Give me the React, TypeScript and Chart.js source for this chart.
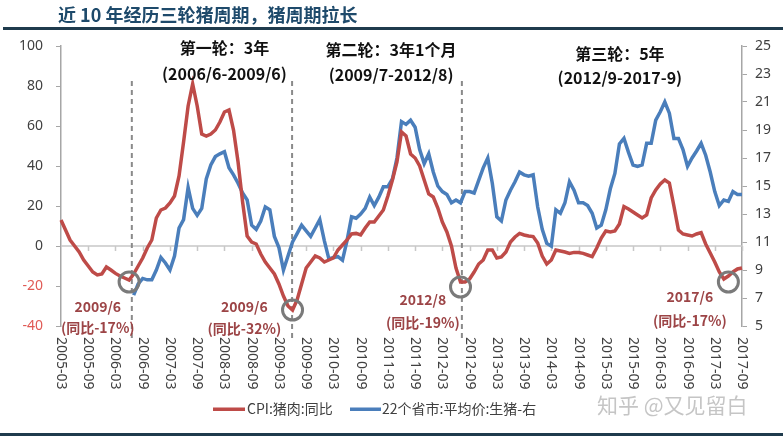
import React, { useEffect, useRef } from 'react';
import { Chart, registerables } from 'chart.js';

Chart.register(...registerables);

// ---------- categories ----------
const START_YEAR = 2005;
const START_MONTH = 3;
const MONTH_COUNT = 151;
const months: string[] = [];
for (let i = 0; i < MONTH_COUNT; i++) {
  const m = START_MONTH - 1 + i;
  months.push(`${START_YEAR + Math.floor(m / 12)}-${String((m % 12) + 1).padStart(2, '0')}`);
}
const LABEL_EVERY = 6;

// ---------- series ----------
// CPI: 猪肉: 同比 (left axis, %)
const cpiPork: number[] = [
  13, 8, 3, 0, -3, -7, -10, -13, -14.5, -14,
  -10.5, -12, -13.7, -15, -16, -17, -14, -10, -6, -1,
  3, 14, 18, 19, 21.5, 25, 35, 52, 70, 81,
  70, 56, 55, 56, 58, 62, 67, 68, 58, 42,
  22, 5, 2, 1, -4, -8, -11, -14, -19, -25,
  -30, -32, -27, -19, -11, -8, -5, -6, -8, -7,
  -6, -2, 0.5, 3, 6, 6.3, 5.5, 9, 12, 12,
  15, 18, 25, 33, 42, 57, 55, 46, 44, 40,
  33, 26, 24.5, 19, 12, 7, 0, -11, -18, -18,
  -16.5, -13, -9, -7, -2, -2, -6, -5.5, -3, 2,
  4.5, 6.3, 5.5, 5, 4.7, 1.5, -5, -9, -7, -2,
  -2.5, -3, -3.7, -3.2, -3.3, -3.7, -4.5, -5.3, -1, 4,
  7.5, 7, 7.5, 11, 19.7, 18.5, 17, 15.5, 14, 15.5,
  24, 28, 31, 33, 31.5, 20, 8, 6, 5.5, 5,
  6, 6.7, 1, -3.5, -8, -13, -16.5, -15, -13, -11.5,
  -11,
];

// 22个省市: 平均价: 生猪 (right axis, 元/公斤)
const hogPrice: (number | null)[] = [
  null, null, null, null, null, null, null, null, null, null,
  null, null, null, null, null, null, 7.2, 8.0, 8.4, 8.3,
  8.3, 9.0, 9.9, 9.5, 9.0, 10.0, 12.0, 12.6, 14.9, 13.4,
  12.9, 13.4, 15.5, 16.5, 17.1, 17.3, 17.45, 16.3, 15.8, 15.2,
  14.5, 14.0, 12.2, 11.9, 12.5, 13.5, 13.3, 11.4, 10.6, 9.0,
  10.0, 11.0, 11.6, 12.2, 11.8, 11.4, 12.0, 12.6, 11.1, 9.8,
  9.9, 9.95, 9.7, 11.1, 12.8, 12.7, 13.0, 13.4, 14.2, 13.6,
  14.2, 14.95, 14.95, 15.5, 17.0, 19.6, 19.4, 19.7, 19.2, 17.6,
  16.6, 17.3, 16.0, 15.0, 14.6, 14.4, 13.8, 14.0, 13.8, 14.6,
  14.6, 14.5, 15.4, 16.3, 17.0, 15.2, 12.8, 12.5, 14.0, 14.7,
  15.3, 16.0, 15.8, 15.7, 15.8, 13.5, 11.9, 10.9, 10.7, 13.3,
  13.05, 13.8, 15.3, 14.7, 13.8, 13.8, 13.6, 13.05, 12.0, 12.2,
  13.3, 14.8, 15.9, 18.0, 18.4, 17.4, 16.5, 16.4, 16.5, 18.05,
  18.05, 19.7, 20.3, 21.0, 20.2, 18.4, 18.4, 17.6, 16.4, 17.0,
  17.5, 18.05, 17.2, 16.0, 14.6, 13.6, 14.0, 13.9, 14.6, 14.4,
  14.4,
];

// ---------- annotations ----------
const troughIdx = [15, 51, 88, 147];
const troughVal = [-18, -32, -20.5, -18];
const troughDates = ['2009/6', '2009/6', '2012/8', '2017/6'];
const troughPct = ['(同比-17%)', '(同比-32%)', '(同比-19%)', '(同比-17%)'];
const troughLabelIdx = [8.1, 40.4, 79.7, 138.5];
const troughDateVal = [-30.5, -30.5, -27, -25.5];
const troughPctVal = [-41, -41.5, -38.5, -37.5];

const cycleTitles = ['第一轮：3年', '第二轮：3年1个月', '第三轮：5年'];
const cycleRanges = ['(2006/6-2009/6)', '(2009/7-2012/8)', '(2012/9-2017-9)'];
const cycleIdx = [36, 72.7, 123.1];
const cycleTitleVal = [99, 98, 96];
const cycleRangeVal = [86.25, 85.75, 84.25];

const dividerIdx = [15.6, 50.9, 88.3];
const dividerTop = 82.5;
const dividerBottom = -47;

const TITLE = '近 10 年经历三轮猪周期，猪周期拉长';
const LEGEND_CPI = 'CPI:猪肉:同比';
const LEGEND_HOG = '22个省市:平均价:生猪-右';
const WATERMARK = '知乎 @又见留白';

const RED = '#be4b48';
const BLUE = '#4a7ebb';
const AXIS_GRAY = '#a6a6a6';
const TEXT_GRAY = '#404040';
const NOTE_RED = '#9c4446';
const SANS = '"Noto Sans", "Noto Sans CJK SC", sans-serif';
const CJK = '"Noto Sans CJK SC", "Noto Sans", sans-serif';

const overlay = {
  id: 'overlay',
  beforeDatasetsDraw(chart: any) {
    const { ctx, chartArea, scales } = chart;
    const xs = scales.x;
    const y = scales.y;
    ctx.save();
    // zero line with tick marks
    const y0 = y.getPixelForValue(0);
    ctx.strokeStyle = '#c8c8c8';
    ctx.lineWidth = 1.5;
    ctx.beginPath();
    ctx.moveTo(chartArea.left, y0);
    ctx.lineTo(chartArea.right, y0);
    for (let i = LABEL_EVERY; i < months.length; i += LABEL_EVERY) {
      const x = Math.round(xs.getPixelForValue(i)) + 0.5;
      ctx.moveTo(x, y0);
      ctx.lineTo(x, y0 + 5);
    }
    ctx.stroke();
    // dashed cycle dividers
    ctx.strokeStyle = '#8a8a8a';
    ctx.lineWidth = 2;
    ctx.setLineDash([5, 4]);
    dividerIdx.forEach((d) => {
      const x = xs.getPixelForValue(d);
      ctx.beginPath();
      ctx.moveTo(x, y.getPixelForValue(dividerTop));
      ctx.lineTo(x, y.getPixelForValue(dividerBottom));
      ctx.stroke();
    });
    ctx.restore();
  },
  afterDraw(chart: any) {
    const { ctx, scales } = chart;
    const xs = scales.x;
    const y = scales.y;
    const W = chart.width;
    ctx.save();
    // title
    ctx.fillStyle = '#1e4a6b';
    ctx.font = `bold 18px ${CJK}`;
    ctx.textAlign = 'left';
    ctx.textBaseline = 'middle';
    ctx.fillText(TITLE, 58, 15);
    ctx.fillStyle = '#1f3b4d';
    ctx.fillRect(3, 27, W - 3, 3);
    ctx.fillRect(0, 433, W, 3);

    // x labels (rotated clockwise)
    ctx.fillStyle = TEXT_GRAY;
    ctx.font = `14px ${SANS}`;
    ctx.textAlign = 'left';
    ctx.textBaseline = 'middle';
    for (let i = 0; i < months.length; i += LABEL_EVERY) {
      const x = xs.getPixelForValue(i);
      ctx.save();
      ctx.translate(x, 337);
      ctx.rotate(Math.PI / 2);
      ctx.fillText(months[i], 0, 0);
      ctx.restore();
    }

    // cycle headings
    ctx.fillStyle = '#111111';
    ctx.textAlign = 'center';
    ctx.font = `bold 16px ${CJK}`;
    cycleTitles.forEach((t, k) => {
      const x = xs.getPixelForValue(cycleIdx[k]);
      ctx.fillText(t, x, y.getPixelForValue(cycleTitleVal[k]));
      ctx.fillText(cycleRanges[k], x, y.getPixelForValue(cycleRangeVal[k]));
    });

    // trough notes
    ctx.fillStyle = NOTE_RED;
    ctx.font = `bold 14px ${CJK}`;
    troughDates.forEach((t, k) => {
      const x = xs.getPixelForValue(troughLabelIdx[k]);
      ctx.fillText(t, x, y.getPixelForValue(troughDateVal[k]));
      ctx.fillText(troughPct[k], x, y.getPixelForValue(troughPctVal[k]));
    });

    // legend
    ctx.textAlign = 'left';
    ctx.font = `14px ${CJK}`;
    ctx.fillStyle = RED;
    ctx.fillRect(213, 407.5, 32, 3.5);
    ctx.fillStyle = TEXT_GRAY;
    ctx.fillText(LEGEND_CPI, 247, 409);
    ctx.fillStyle = BLUE;
    ctx.fillRect(350, 407.5, 31, 3.5);
    ctx.fillStyle = TEXT_GRAY;
    ctx.fillText(LEGEND_HOG, 382, 409);

    // watermark
    ctx.fillStyle = 'rgba(150,150,150,0.55)';
    ctx.font = `21px ${CJK}`;
    ctx.fillText(WATERMARK, 597, 405);
    ctx.restore();
  },
};

export default function App() {
  const ref = useRef<HTMLCanvasElement>(null);
  useEffect(() => {
    const chart = new Chart(ref.current as HTMLCanvasElement, {
      type: 'line',
      data: {
        labels: months,
        datasets: [
          {
            label: 'trough',
            data: troughIdx.map((i, k) => ({ x: months[i], y: troughVal[k] })) as any,
            yAxisID: 'y',
            showLine: false,
            pointRadius: 10,
            pointBorderWidth: 3,
            pointBorderColor: '#7a7a7a',
            pointBackgroundColor: 'rgba(0,0,0,0)',
          },
          {
            label: LEGEND_CPI,
            data: cpiPork,
            yAxisID: 'y',
            borderColor: RED,
            borderWidth: 3.5,
            pointRadius: 0,
            tension: 0,
          },
          {
            label: LEGEND_HOG,
            data: hogPrice,
            yAxisID: 'y1',
            borderColor: BLUE,
            borderWidth: 3.5,
            pointRadius: 0,
            tension: 0,
            spanGaps: false,
          },
        ],
      },
      options: {
        animation: false,
        responsive: true,
        maintainAspectRatio: false,
        layout: { padding: { top: 46, bottom: 0, left: 0, right: 0 } },
        plugins: {
          legend: { display: false },
          tooltip: { enabled: false },
          title: { display: false },
        },
        scales: {
          x: {
            type: 'category',
            offset: false,
            grid: { display: false },
            border: { display: false },
            ticks: { display: false },
            afterFit: (s: any) => {
              s.height = 110;
            },
          },
          y: {
            position: 'left',
            min: -40,
            max: 100,
            ticks: {
              stepSize: 20,
              padding: 13,
              font: { size: 14, family: SANS },
              color: (c: any) => (c.tick && c.tick.value < 0 ? '#e05a55' : TEXT_GRAY),
            },
            grid: { drawOnChartArea: false, tickLength: 5, color: AXIS_GRAY },
            border: { display: true, color: AXIS_GRAY, width: 1.5 },
            afterFit: (s: any) => {
              s.width = 61;
            },
          },
          y1: {
            position: 'right',
            min: 5,
            max: 25,
            ticks: {
              stepSize: 2,
              padding: 8,
              font: { size: 14, family: SANS },
              color: TEXT_GRAY,
            },
            grid: { drawOnChartArea: false, tickLength: 5, color: AXIS_GRAY },
            border: { display: true, color: AXIS_GRAY, width: 1.5 },
            afterFit: (s: any) => {
              s.width = 41;
            },
          },
        },
      },
      plugins: [overlay],
    });
    return () => chart.destroy();
  }, []);
  return (
    <div style={{ position: 'absolute', left: 0, top: 0, width: 783, height: 436, background: '#ffffff' }}>
      <canvas ref={ref} />
    </div>
  );
}
